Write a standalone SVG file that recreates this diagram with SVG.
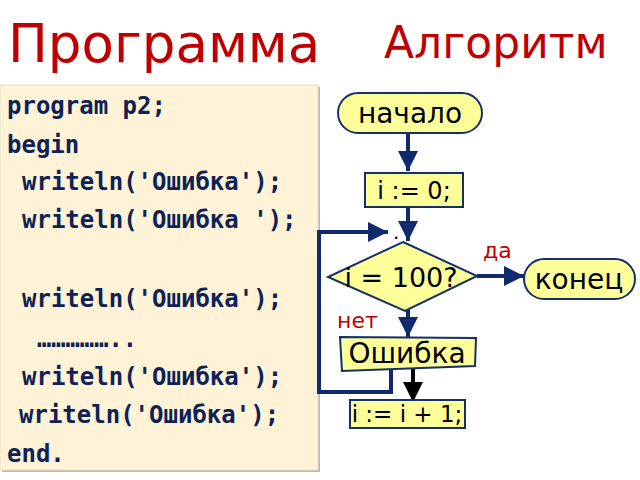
<svg xmlns="http://www.w3.org/2000/svg" width="640" height="480" viewBox="0 0 640 480">
<style>
.title{font-family:"DejaVu Sans",sans-serif;fill:#C00000}
.code{font-family:"DejaVu Sans Mono",monospace;font-weight:bold;font-size:24px;fill:#0E2255}
.node{fill:#FFFF99;stroke:#14306A;stroke-width:2}
.lbl{font-family:"DejaVu Sans",sans-serif;fill:#000;text-anchor:middle}
.red{font-family:"DejaVu Sans",sans-serif;fill:#C00000;font-size:22px}
.conn{fill:none;stroke:#102A6B;stroke-width:4}
</style>
<defs>
<marker id="ah" viewBox="0 0 20 20" refX="20" refY="10" markerWidth="20" markerHeight="20" markerUnits="userSpaceOnUse" orient="auto">
<path d="M0,0 L20,10 L0,20 z" fill="#102A6B"/>
</marker>
<marker id="ahb" viewBox="0 0 20 20" refX="20" refY="10" markerWidth="20" markerHeight="20" markerUnits="userSpaceOnUse" orient="auto">
<path d="M0,0 L20,10 L0,20 z" fill="#000"/>
</marker>
</defs>
<rect width="640" height="480" fill="#fff"/>
<text class="title" x="8" y="62" font-size="53">Программа</text>
<text class="title" x="384" y="58" font-size="44">Алгоритм</text>

<g id="code">
<rect x="2" y="87" width="318" height="385" fill="#B8B8B8"/>
<rect x="0" y="85" width="318" height="385" fill="#FEF3D6" stroke="#E8DDBE" stroke-width="1"/>
<text class="code" x="7" y="114">program p2;</text>
<text class="code" x="7" y="153">begin</text>
<text class="code" x="22" y="190">writeln('Ошибка');</text>
<text class="code" x="22" y="228">writeln('Ошибка ');</text>
<text class="code" x="22" y="307">writeln('Ошибка');</text>
<text class="code" x="37" y="347" textLength="100" lengthAdjust="spacingAndGlyphs">……………..</text>
<text class="code" x="22" y="385">writeln('Ошибка');</text>
<text class="code" x="19" y="423">writeln('Ошибка');</text>
<text class="code" x="7" y="462">end.</text>
</g>

<g id="connectors">
<line class="conn" x1="408" y1="133" x2="408" y2="171" marker-end="url(#ah)"/>
<line class="conn" x1="408" y1="207" x2="408" y2="241" marker-end="url(#ah)"/>
<line class="conn" x1="477" y1="276" x2="524" y2="276" marker-end="url(#ah)"/>
<line class="conn" x1="408" y1="310" x2="408" y2="337" marker-end="url(#ah)"/>
<polyline class="conn" points="391,369 391,392 319,392 319,232 388,232" marker-end="url(#ah)"/>
<line x1="413" y1="368" x2="413" y2="402" stroke="#000" stroke-width="4" marker-end="url(#ahb)"/>
<text x="393" y="239" font-family="DejaVu Sans,sans-serif" font-size="20" fill="#000">.</text>
</g>

<g id="start">
<rect class="node" x="338" y="93" width="144" height="40" rx="20"/>
<text class="lbl" x="410" y="123" font-size="28">начало</text>
</g>
<g id="init">
<rect class="node" x="365" y="173" width="98" height="34"/>
<text class="lbl" x="414" y="199" font-size="24">i := 0;</text>
</g>
<g id="cond">
<polygon class="node" points="403,242 477,276 405,311 328,277"/>
<text class="lbl" x="401" y="287" font-size="27">i = 100?</text>
</g>
<g id="end">
<rect class="node" x="524" y="259" width="111" height="40" rx="20"/>
<text class="lbl" x="579" y="289" font-size="28">конец</text>
</g>
<g id="err">
<polygon class="node" points="340,337 476,338 475,366 342,371"/>
<text class="lbl" x="407" y="363" font-size="28">Ошибка</text>
</g>
<g id="inc">
<rect class="node" x="350" y="400" width="115" height="28" stroke-width="1.5"/>
<text class="lbl" x="407" y="422" font-size="23">i := i + 1;</text>
</g>
<text class="red" x="483" y="258">да</text>
<text class="red" x="337" y="328">нет</text>
</svg>
